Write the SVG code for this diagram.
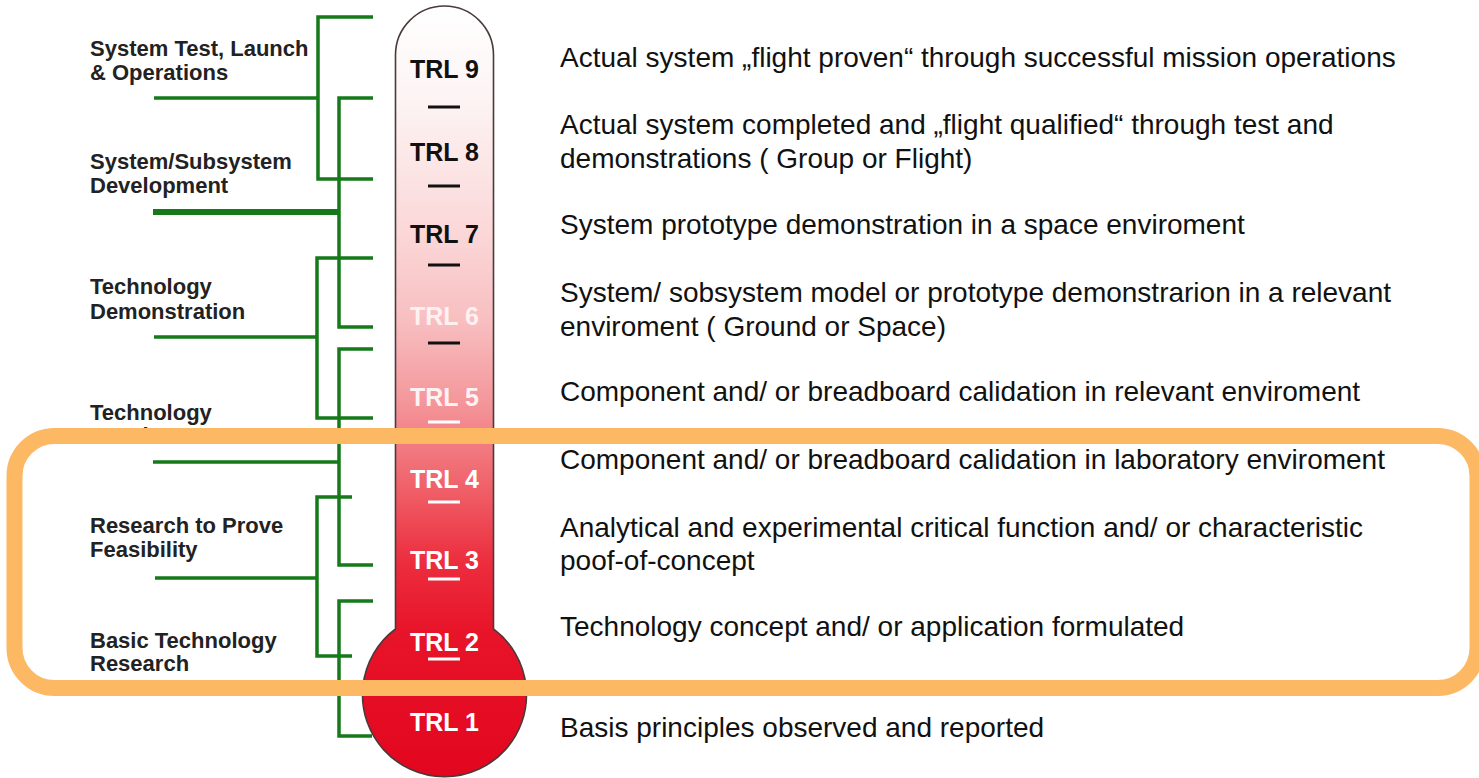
<svg xmlns="http://www.w3.org/2000/svg" width="1479" height="778" viewBox="0 0 1479 778">
<style>
.lbl{font-family:"Liberation Sans",Arial,sans-serif;font-weight:bold;font-size:22px;fill:#222}
.desc{font-family:"Liberation Sans",Arial,sans-serif;font-size:28px;fill:#111}
.trl{font-family:"Liberation Sans",Arial,sans-serif;font-weight:bold;font-size:25px;text-anchor:middle}
.g{stroke:#16791a;stroke-width:3.5;fill:none;stroke-linecap:butt}
.dk{stroke:#111;stroke-width:3}
.wt{stroke:#fff;stroke-width:3}
</style>
<defs>
<linearGradient id="tg" gradientUnits="userSpaceOnUse" x1="0" y1="6" x2="0" y2="777">
<stop offset="0" stop-color="#ffffff"/>
<stop offset="0.12" stop-color="#fdf4f4"/>
<stop offset="0.30" stop-color="#fbd6d7"/>
<stop offset="0.41" stop-color="#f8bec0"/>
<stop offset="0.51" stop-color="#f4989c"/>
<stop offset="0.62" stop-color="#f0636b"/>
<stop offset="0.72" stop-color="#ec2e3e"/>
<stop offset="0.81" stop-color="#e8142a"/>
<stop offset="1" stop-color="#e2061e"/>
</linearGradient>
<clipPath id="cut"><rect x="0" y="0" width="400" height="436"/></clipPath>
</defs>
<rect width="1479" height="778" fill="#fff"/>

<g id="connectors">
<path class="g" d="M373,17 H318 V179 H373 M154,98 H318"/>
<path class="g" d="M373,98 H339 V327 H373"/>
<path class="g" d="M153,212 H339" style="stroke-width:6"/>
<path class="g" d="M373,258 H317 V418 H373 M154,337 H317"/>
<path class="g" d="M373,349 H339 V565 H373 M153,462 H339"/>
<path class="g" d="M352,497 H317 V656 H352 M155,578 H317"/>
<path class="g" d="M373,601 H339 V736 H372"/>
</g>

<g id="thermometer">
<path d="M395.5,55 A49,49 0 0 1 493.5,55 L493.5,629 A82,82 0 1 1 395.5,629 Z" fill="url(#tg)" stroke="#4a3a3a" stroke-width="1.6"/>
<text class="trl" x="444.5" y="78" fill="#111">TRL 9</text>
<line class="dk" x1="428" y1="107" x2="460" y2="107"/>
<text class="trl" x="444.5" y="161" fill="#111">TRL 8</text>
<line class="dk" x1="428" y1="186" x2="460" y2="186"/>
<text class="trl" x="444.5" y="243" fill="#111">TRL 7</text>
<line class="dk" x1="428" y1="265" x2="460" y2="265"/>
<text class="trl" x="444.5" y="325" fill="#fff" fill-opacity="0.8">TRL 6</text>
<line class="dk" x1="428" y1="343" x2="460" y2="343"/>
<text class="trl" x="444.5" y="406" fill="#fff" fill-opacity="0.9">TRL 5</text>
<line class="wt" x1="428" y1="422" x2="460" y2="422"/>
<text class="trl" x="444.5" y="488" fill="#fff">TRL 4</text>
<line class="wt" x1="428" y1="502" x2="460" y2="502"/>
<text class="trl" x="444.5" y="569" fill="#fff">TRL 3</text>
<line class="wt" x1="428" y1="579" x2="460" y2="579"/>
<text class="trl" x="444.5" y="651" fill="#fff">TRL 2</text>
<line class="wt" x1="428" y1="659" x2="460" y2="659"/>
<text class="trl" x="444.5" y="731" fill="#fff">TRL 1</text>
</g>

<g id="phase-system-test">
<text class="lbl" x="90" y="56">System Test, Launch</text>
<text class="lbl" x="90" y="80">&amp; Operations</text>
</g>
<g id="phase-system-dev">
<text class="lbl" x="90" y="169">System/Subsystem</text>
<text class="lbl" x="90" y="193">Development</text>
</g>
<g id="phase-tech-demo">
<text class="lbl" x="90" y="294">Technology</text>
<text class="lbl" x="90" y="319">Demonstration</text>
</g>
<g id="phase-tech-dev">
<text class="lbl" x="90" y="420">Technology</text>
<text class="lbl" x="90" y="443" clip-path="url(#cut)">Development</text>
</g>
<g id="phase-research">
<text class="lbl" x="90" y="533">Research to Prove</text>
<text class="lbl" x="90" y="557">Feasibility</text>
</g>
<g id="phase-basic">
<text class="lbl" x="90" y="648">Basic Technology</text>
<text class="lbl" x="90" y="671">Research</text>
</g>

<g id="descriptions">
<text class="desc" x="560" y="67">Actual system „flight proven“ through successful mission operations</text>
<text class="desc" x="560" y="134">Actual system completed and „flight qualified“ through test and</text>
<text class="desc" x="560" y="168">demonstrations ( Group or Flight)</text>
<text class="desc" x="560" y="234">System prototype demonstration in a space enviroment</text>
<text class="desc" x="560" y="302">System/ sobsystem model or prototype demonstrarion in a relevant</text>
<text class="desc" x="560" y="336">enviroment ( Ground or Space)</text>
<text class="desc" x="560" y="401">Component and/ or breadboard calidation in relevant enviroment</text>
<text class="desc" x="560" y="469">Component and/ or breadboard calidation in laboratory enviroment</text>
<text class="desc" x="560" y="537">Analytical and experimental critical function and/ or characteristic</text>
<text class="desc" x="560" y="570">poof-of-concept</text>
<text class="desc" x="560" y="636">Technology concept and/ or application formulated</text>
<text class="desc" x="560" y="737">Basis principles observed and reported</text>
</g>

<g id="highlight">
<rect x="14.5" y="436" width="1463" height="252" rx="40" ry="40" fill="none" stroke="#fdb863" stroke-width="16"/>
</g>
</svg>
